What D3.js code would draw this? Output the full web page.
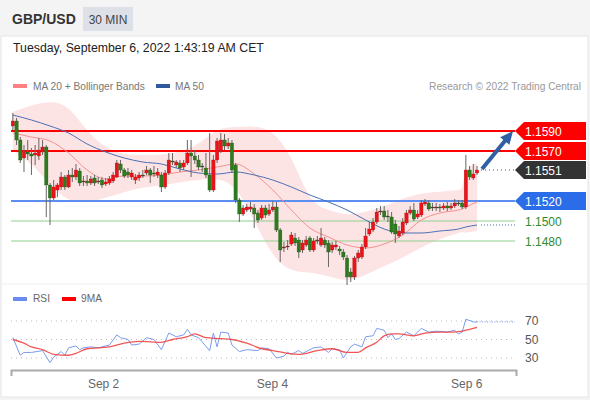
<!DOCTYPE html>
<html>
<head>
<meta charset="utf-8">
<script src="https://cdn.jsdelivr.net/npm/d3@7"></script>
<style>
  body { margin: 0; background: #fff; }
  svg { display: block; font-family: "Liberation Sans", Arial, sans-serif; }
</style>
</head>
<body>
<svg width="590" height="400"></svg>
<script>
// 30 min GBP/USD candles, oldest first
var opens = [
  1.1595, 1.1600, 1.1581, 1.1563, 1.1569, 1.1567, 1.1566, 1.1565, 1.1569, 1.1574,
  1.1536, 1.1523, 1.1531, 1.1534, 1.1544, 1.1534, 1.1546, 1.1544, 1.1550, 1.1539,
  1.1540, 1.1538, 1.1543, 1.1539, 1.1541, 1.1537, 1.1538, 1.1540, 1.1544, 1.1557,
  1.1551, 1.1549, 1.1544, 1.1541, 1.1543, 1.1546, 1.1548, 1.1551, 1.1548, 1.1546,
  1.1546, 1.1534, 1.1548, 1.1560, 1.1556, 1.1558, 1.1554, 1.1558, 1.1568, 1.1565,
  1.1561, 1.1555, 1.1553, 1.1546, 1.1531, 1.1561, 1.1570, 1.1581, 1.1575, 1.1578,
  1.1556, 1.1521, 1.1507, 1.1511, 1.1512, 1.1513, 1.1508, 1.1503, 1.1513, 1.1507,
  1.1511, 1.1514, 1.1491, 1.1473, 1.1474, 1.1477, 1.1483, 1.1481, 1.1471, 1.1476,
  1.1483, 1.1471, 1.1480, 1.1476, 1.1481, 1.1478, 1.1471, 1.1474, 1.1472, 1.1469,
  1.1463, 1.1449, 1.1444, 1.1463, 1.1464, 1.1474, 1.1487, 1.1491, 1.1499, 1.1509,
  1.1510, 1.1505, 1.1504, 1.1497, 1.1485, 1.1488, 1.1498, 1.1508, 1.1511, 1.1504,
  1.1506, 1.1517, 1.1518, 1.1514, 1.1513, 1.1514, 1.1513, 1.1515, 1.1513, 1.1515,
  1.1518, 1.1518, 1.1514, 1.1551, 1.1543, 1.1548
];
var highs = [
  1.1608, 1.1603, 1.1584, 1.1576, 1.1581, 1.1573, 1.1576, 1.1583, 1.1581, 1.1576,
  1.1538, 1.1541, 1.1538, 1.1549, 1.1546, 1.1551, 1.1553, 1.1557, 1.1553, 1.1545,
  1.1546, 1.1545, 1.1546, 1.1544, 1.1544, 1.1543, 1.1545, 1.1549, 1.1561, 1.1561,
  1.1553, 1.1553, 1.1551, 1.1547, 1.1549, 1.1551, 1.1555, 1.1553, 1.1555, 1.1553,
  1.1549, 1.1551, 1.1568, 1.1568, 1.1561, 1.1561, 1.1561, 1.1581, 1.1581, 1.1571,
  1.1566, 1.1558, 1.1568, 1.1588, 1.1566, 1.1583, 1.1588, 1.1587, 1.1583, 1.1581,
  1.1558, 1.1523, 1.1516, 1.1517, 1.1519, 1.1517, 1.1511, 1.1516, 1.1516, 1.1517,
  1.1520, 1.1519, 1.1493, 1.1479, 1.1481, 1.1489, 1.1488, 1.1484, 1.1481, 1.1485,
  1.1485, 1.1483, 1.1485, 1.1493, 1.1484, 1.1481, 1.1479, 1.1480, 1.1475, 1.1472,
  1.1466, 1.1453, 1.1465, 1.1471, 1.1477, 1.1493, 1.1499, 1.1503, 1.1513, 1.1515,
  1.1515, 1.1511, 1.1509, 1.1501, 1.1495, 1.1503, 1.1511, 1.1515, 1.1518, 1.1511,
  1.1521, 1.1522, 1.1521, 1.1518, 1.1518, 1.1517, 1.1518, 1.1519, 1.1518, 1.1522,
  1.1521, 1.1521, 1.1566, 1.1555, 1.1557, 1.1555
];
var lows = [
  1.1591, 1.1576, 1.1558, 1.1549, 1.1561, 1.1546, 1.1556, 1.1561, 1.1566, 1.1504,
  1.1496, 1.1521, 1.1524, 1.1531, 1.1531, 1.1533, 1.1539, 1.1541, 1.1535, 1.1535,
  1.1535, 1.1536, 1.1535, 1.1537, 1.1533, 1.1535, 1.1536, 1.1538, 1.1543, 1.1548,
  1.1543, 1.1543, 1.1541, 1.1537, 1.1540, 1.1543, 1.1546, 1.1538, 1.1544, 1.1543,
  1.1529, 1.1532, 1.1546, 1.1556, 1.1553, 1.1549, 1.1551, 1.1556, 1.1544, 1.1557,
  1.1551, 1.1549, 1.1543, 1.1529, 1.1529, 1.1558, 1.1568, 1.1571, 1.1572, 1.1548,
  1.1518, 1.1499, 1.1505, 1.1509, 1.1509, 1.1493, 1.1498, 1.1501, 1.1503, 1.1505,
  1.1509, 1.1489, 1.1459, 1.1469, 1.1471, 1.1475, 1.1475, 1.1463, 1.1468, 1.1474,
  1.1469, 1.1469, 1.1477, 1.1474, 1.1473, 1.1454, 1.1468, 1.1471, 1.1466, 1.1461,
  1.1436, 1.1439, 1.1441, 1.1459, 1.1462, 1.1472, 1.1485, 1.1489, 1.1497, 1.1506,
  1.1501, 1.1499, 1.1487, 1.1478, 1.1483, 1.1486, 1.1496, 1.1506, 1.1500, 1.1502,
  1.1504, 1.1515, 1.1510, 1.1510, 1.1510, 1.1509, 1.1511, 1.1510, 1.1511, 1.1513,
  1.1515, 1.1512, 1.1512, 1.1541, 1.1541, 1.1546
];
var closes = [
  1.1600, 1.1581, 1.1561, 1.1569, 1.1567, 1.1565, 1.1568, 1.1571, 1.1574, 1.1536,
  1.1523, 1.1534, 1.1536, 1.1544, 1.1534, 1.1546, 1.1544, 1.1551, 1.1538, 1.1540,
  1.1538, 1.1542, 1.1538, 1.1540, 1.1536, 1.1539, 1.1542, 1.1546, 1.1558, 1.1551,
  1.1545, 1.1546, 1.1548, 1.1544, 1.1546, 1.1546, 1.1551, 1.1546, 1.1548, 1.1549,
  1.1534, 1.1548, 1.1561, 1.1559, 1.1559, 1.1553, 1.1558, 1.1568, 1.1565, 1.1561,
  1.1554, 1.1554, 1.1546, 1.1531, 1.1561, 1.1580, 1.1581, 1.1575, 1.1578, 1.1551,
  1.1521, 1.1507, 1.1513, 1.1514, 1.1514, 1.1507, 1.1501, 1.1513, 1.1506, 1.1511,
  1.1514, 1.1491, 1.1471, 1.1474, 1.1475, 1.1486, 1.1478, 1.1469, 1.1478, 1.1481,
  1.1471, 1.1480, 1.1481, 1.1483, 1.1476, 1.1469, 1.1476, 1.1476, 1.1470, 1.1464,
  1.1444, 1.1444, 1.1463, 1.1468, 1.1474, 1.1485, 1.1492, 1.1499, 1.1509, 1.1510,
  1.1504, 1.1504, 1.1489, 1.1487, 1.1490, 1.1499, 1.1508, 1.1511, 1.1502, 1.1507,
  1.1518, 1.1519, 1.1512, 1.1513, 1.1514, 1.1513, 1.1515, 1.1513, 1.1515, 1.1518,
  1.1517, 1.1514, 1.1551, 1.1544, 1.1547, 1.1551
];

// indicator values read at these candle positions
var knotIdx = [0, 5, 10, 15, 20, 25, 30, 35, 40, 45, 50, 55, 60, 65, 70, 75, 80, 85, 90, 95, 100, 105, 110, 115, 120, 121, 122, 125];
var ma20 = [1.1588, 1.1584, 1.1580, 1.1568, 1.1551, 1.1542, 1.1545, 1.1545, 1.1546, 1.1549, 1.1551, 1.1554, 1.1557, 1.1547,
            1.1531, 1.1511, 1.1493, 1.1484, 1.1476, 1.1473, 1.1477, 1.1486, 1.1501, 1.1508, 1.1511, 1.1512, 1.1514, 1.1519];
var ma50 = [1.1606, 1.1601, 1.1595, 1.1588, 1.1577, 1.1569, 1.1563, 1.1559, 1.1557, 1.1552, 1.1548, 1.1547, 1.1549, 1.1546,
            1.1541, 1.1534, 1.1526, 1.1519, 1.1511, 1.1501, 1.1492, 1.1488, 1.1488, 1.1490, 1.1492, 1.1493, 1.1494, 1.1496];
var bbUpper = [1.1609, 1.1616, 1.1620, 1.1616, 1.1589, 1.1573, 1.1566, 1.1566, 1.1566, 1.1569, 1.1576, 1.1593, 1.1594, 1.1595,
               1.1591, 1.1566, 1.1518, 1.1511, 1.1505, 1.1509, 1.1514, 1.1523, 1.1528, 1.1529, 1.1531, 1.1531, 1.1553, 1.1558];
var bbLower = [1.1571, 1.1558, 1.1536, 1.1519, 1.1518, 1.1523, 1.1529, 1.1534, 1.1535, 1.1539, 1.1541, 1.1543, 1.1536, 1.1501,
               1.1463, 1.1449, 1.1449, 1.1445, 1.1439, 1.1446, 1.1455, 1.1463, 1.1474, 1.1482, 1.1488, 1.1489, 1.1488, 1.1490];

var resistances = [1.1590, 1.1570];
var supportPivot = 1.1520;
var supports = [1.1500, 1.1480];
var lastPrice = 1.1551;

var rsiIdx = [0, 2, 3, 5, 8, 10, 11, 13, 14, 15, 17, 18, 19, 21, 23, 26, 28, 29, 31, 32, 34, 36, 38, 40, 42, 44, 46, 47, 48, 50,
              53, 54, 55, 56, 58, 59, 61, 63, 66, 67, 69, 71, 73, 74, 75, 77, 78, 81, 83, 85, 86, 88, 89, 91, 92, 94, 95, 97, 98, 100,
              101, 102, 103, 104, 106, 107, 108, 110, 112, 114, 117, 119, 120, 121, 122, 124, 125];
var rsiVal = [52, 33, 36, 36, 38, 25, 31, 37, 33, 41, 43, 39, 41, 42, 41, 44, 55, 52, 50, 44, 45, 52, 50, 39, 57, 53, 55, 61, 55, 52,
              38, 57, 42, 58, 57, 44, 37, 39, 38, 41, 40, 30, 32, 36, 34, 38, 35, 41, 42, 36, 40, 39, 30, 42, 45, 42, 53, 54, 62, 60,
              52, 56, 50, 51, 58, 56, 54, 62, 58, 59, 58, 60, 56, 58, 72, 69, 69];
var maRsiIdx = [0, 3, 5, 8, 11, 15, 17, 20, 23, 26, 30, 34, 40, 43, 47, 49, 52, 56, 59, 63, 67, 70, 74, 77, 82, 86, 90, 93, 95, 98,
                100, 102, 104, 108, 111, 115, 118, 121, 123, 125];
var maRsiVal = [50, 46, 42, 39, 34, 33, 35, 40, 41, 42, 46, 48, 47, 50, 53, 56, 52, 51, 50, 46, 40, 38, 35, 34, 38, 40, 36, 36, 41, 47,
                54, 56, 56, 54, 57, 58, 58, 59, 61, 63];
var rsiLevels = [70, 50, 30];

var dayLabels = ["Sep 2", "Sep 4", "Sep 6"];
var dayIdx = [24.3, 69.8, 122.1];

var svg = d3.select("svg");

// frame
svg.append("rect").attr("width", 590).attr("height", 400).attr("fill", "#f4f4f4");
svg.append("rect").attr("x", 1).attr("y", 36).attr("width", 587).attr("height", 361)
    .attr("fill", "#fff").attr("stroke", "#e6e6e6");
svg.append("line").attr("x1", 1).attr("x2", 588).attr("y1", 284).attr("y2", 284).attr("stroke", "#eee");

svg.append("text").attr("x", 12).attr("y", 24).attr("font-size", 14).attr("font-weight", "bold")
    .attr("fill", "#333").text("GBP/USD");
svg.append("rect").attr("x", 83).attr("y", 7).attr("width", 50).attr("height", 24).attr("fill", "#dde0e6");
svg.append("text").attr("x", 108).attr("y", 23.5).attr("font-size", 12).attr("text-anchor", "middle")
    .attr("fill", "#444").text("30 MIN");
svg.append("text").attr("x", 13).attr("y", 52).attr("font-size", 12.3).attr("fill", "#222")
    .text("Tuesday, September 6, 2022 1:43:19 AM CET");

// legend
svg.append("rect").attr("x", 13).attr("y", 84).attr("width", 14).attr("height", 4).attr("fill", "#ff8080");
svg.append("text").attr("x", 33).attr("y", 90).attr("font-size", 10.2).attr("fill", "#777").text("MA 20 + Bollinger Bands");
svg.append("rect").attr("x", 156).attr("y", 84).attr("width", 14).attr("height", 4).attr("fill", "#2f5a9e");
svg.append("text").attr("x", 175).attr("y", 90).attr("font-size", 10.2).attr("fill", "#777").text("MA 50");
svg.append("text").attr("x", 581).attr("y", 90).attr("font-size", 10.2).attr("fill", "#999")
    .attr("text-anchor", "end").text("Research \u00a9 2022 Trading Central");

var x = d3.scaleLinear().domain([-0.5, 135.5]).range([11, 516]);
var y = d3.scaleLinear().domain([1.1436, 1.1621]).range([285, 100]);

var knots = knotIdx.map(function(d, i) {
  return {i: d, ma20: ma20[i], ma50: ma50[i], up: bbUpper[i], lo: bbLower[i]};
});

svg.append("path").datum(knots)
    .attr("fill", "#fde4e4")
    .attr("d", d3.area().curve(d3.curveBasis)
      .x(function(d) { return x(d.i); })
      .y0(function(d) { return y(d.lo); })
      .y1(function(d) { return y(d.up); }));

// horizontal levels
var xEnd = x(135.5) - 1;
resistances.forEach(function(p) {
  svg.append("line").attr("x1", 11).attr("x2", xEnd).attr("y1", y(p)).attr("y2", y(p))
      .attr("stroke", "#ff0000").attr("stroke-width", 2);
});
svg.append("line").attr("x1", 11).attr("x2", xEnd).attr("y1", y(supportPivot)).attr("y2", y(supportPivot))
    .attr("stroke", "#5b8ef0").attr("stroke-width", 2);
supports.forEach(function(p) {
  svg.append("line").attr("x1", 11).attr("x2", xEnd).attr("y1", y(p)).attr("y2", y(p))
      .attr("stroke", "#8fd08f").attr("stroke-width", 1);
});

svg.append("path").datum(knots)
    .attr("fill", "none").attr("stroke", "#f49090").attr("stroke-width", 1)
    .attr("d", d3.line().curve(d3.curveMonotoneX)
      .x(function(d) { return x(d.i); }).y(function(d) { return y(d.ma20); }));
svg.append("path").datum(knots)
    .attr("fill", "none").attr("stroke", "#4a70b5").attr("stroke-width", 1)
    .attr("d", d3.line().curve(d3.curveMonotoneX)
      .x(function(d) { return x(d.i); }).y(function(d) { return y(d.ma50); }));

// dotted extensions
var last = closes.length - 1;
svg.append("line").attr("x1", x(last) + 4).attr("x2", xEnd).attr("y1", y(ma50[ma50.length - 1])).attr("y2", y(ma50[ma50.length - 1]))
    .attr("stroke", "#4a70b5").attr("stroke-dasharray", "1,2");
svg.append("line").attr("x1", x(last) + 4).attr("x2", xEnd).attr("y1", y(lastPrice)).attr("y2", y(lastPrice))
    .attr("stroke", "#555").attr("stroke-dasharray", "1,3");

// candles
var candles = closes.map(function(c, i) {
  return {i: i, o: opens[i], h: highs[i], l: lows[i], c: c};
});
var g = svg.append("g").selectAll("g").data(candles).enter().append("g");
g.append("line")
    .attr("x1", function(d) { return x(d.i); })
    .attr("x2", function(d) { return x(d.i); })
    .attr("y1", function(d) { return y(d.h); })
    .attr("y2", function(d) { return y(d.l); })
    .attr("stroke", "#666").attr("stroke-width", 1);
g.append("rect")
    .attr("x", function(d) { return x(d.i) - 1.7; })
    .attr("width", 3.4)
    .attr("y", function(d) { return y(Math.max(d.o, d.c)); })
    .attr("height", function(d) { return Math.max(1, Math.abs(y(d.o) - y(d.c))); })
    .attr("fill", function(d) {
      if (Math.abs(d.c - d.o) < 0.00015) return "#444";
      return d.c > d.o ? "#e8141a" : "#2d7a1f";
    })
    .attr("stroke", function(d) { return d.c > d.o ? "#b01010" : "#245a18"; })
    .attr("stroke-width", 0.3);

// arrow
var ax0 = x(last) + 5, ay0 = y(lastPrice) - 1, ax1 = x(135.5) - 3, ay1 = y(resistances[0]);
var ang = Math.atan2(ay1 - ay0, ax1 - ax0);
svg.append("line").attr("x1", ax0).attr("y1", ay0)
    .attr("x2", ax1 - 9 * Math.cos(ang)).attr("y2", ay1 - 9 * Math.sin(ang))
    .attr("stroke", "#2f60a3").attr("stroke-width", 4);
svg.append("path")
    .attr("d", d3.line()([
      [ax1, ay1],
      [ax1 - 13 * Math.cos(ang) + 6 * Math.sin(ang), ay1 - 13 * Math.sin(ang) - 6 * Math.cos(ang)],
      [ax1 - 13 * Math.cos(ang) - 6 * Math.sin(ang), ay1 - 13 * Math.sin(ang) + 6 * Math.cos(ang)]
    ]) + "Z")
    .attr("fill", "#2f60a3");

// price tags
function tag(p, fill, textFill) {
  var cy = y(p), x0 = 515;
  if (fill) {
    svg.append("path")
        .attr("d", d3.line()([[x0, cy], [x0 + 9, cy - 9], [586, cy - 9], [586, cy + 9], [x0 + 9, cy + 9]]) + "Z")
        .attr("fill", fill);
  }
  svg.append("text").attr("x", 525).attr("y", cy + 4.5).attr("font-size", 12)
      .attr("fill", textFill).text(p.toFixed(4));
}
resistances.forEach(function(p) { tag(p, "#ff0000", "#fff"); });
tag(lastPrice, "#333", "#fff");
tag(supportPivot, "#2b6de8", "#fff");
supports.forEach(function(p) { tag(p, null, "#2e8b2e"); });

// RSI panel
svg.append("rect").attr("x", 13).attr("y", 297).attr("width", 14).attr("height", 4).attr("fill", "#6a8cf0");
svg.append("text").attr("x", 33).attr("y", 302).attr("font-size", 10.2).attr("fill", "#666").text("RSI");
svg.append("rect").attr("x", 62).attr("y", 297).attr("width", 14).attr("height", 4).attr("fill", "#f00");
svg.append("text").attr("x", 81).attr("y", 302).attr("font-size", 10.2).attr("fill", "#666").text("9MA");

var yr = d3.scaleLinear().domain([30, 70]).range([358, 321]);
rsiLevels.forEach(function(v) {
  svg.append("line").attr("x1", 11).attr("x2", xEnd).attr("y1", yr(v)).attr("y2", yr(v))
      .attr("stroke", "#bbb").attr("stroke-dasharray", "1,4");
  svg.append("text").attr("x", 525).attr("y", yr(v) + 4).attr("font-size", 12).attr("fill", "#555").text(v);
});

svg.append("path").datum(d3.zip(rsiIdx, rsiVal))
    .attr("fill", "none").attr("stroke", "#7b9cf0").attr("stroke-width", 1)
    .attr("d", d3.line().x(function(d) { return x(d[0]); }).y(function(d) { return yr(d[1]); }));
svg.append("line").attr("x1", x(last)).attr("x2", xEnd)
    .attr("y1", yr(rsiVal[rsiVal.length - 1])).attr("y2", yr(rsiVal[rsiVal.length - 1]))
    .attr("stroke", "#7b9cf0").attr("stroke-dasharray", "1,1.5");
svg.append("path").datum(d3.zip(maRsiIdx, maRsiVal))
    .attr("fill", "none").attr("stroke", "#f03a3a").attr("stroke-width", 1.3).attr("stroke-opacity", 0.85)
    .attr("d", d3.line().curve(d3.curveMonotoneX).x(function(d) { return x(d[0]); }).y(function(d) { return yr(d[1]); }));

// time axis
var axis = d3.axisBottom(x)
    .tickValues(dayIdx)
    .tickFormat(function(d, i) { return dayLabels[i]; })
    .tickSizeInner(0).tickSizeOuter(6).tickPadding(9);
var ax = svg.append("g").attr("transform", "translate(0,370)").call(axis);
ax.select(".domain").attr("stroke", "#aaa").attr("stroke-width", 2);
ax.selectAll("text").attr("font-size", 12).attr("fill", "#666")
    .attr("font-family", "\"Liberation Sans\", Arial, sans-serif");
</script>
</body>
</html>
